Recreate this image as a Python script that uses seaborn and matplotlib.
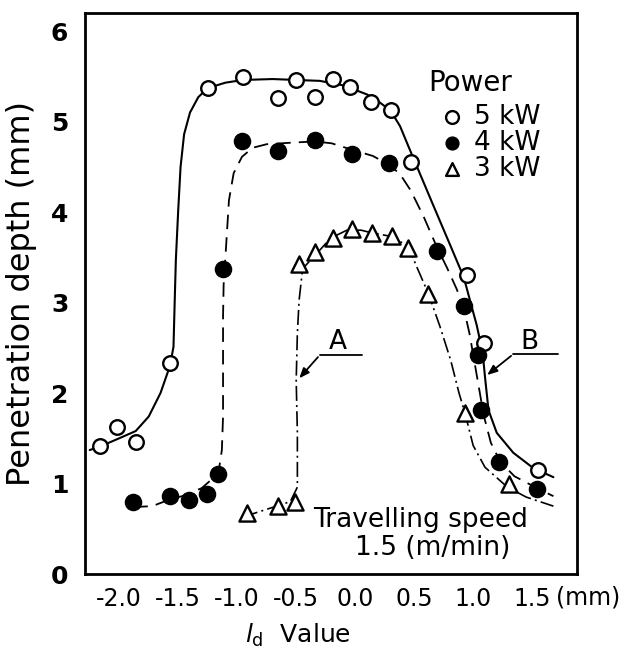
import matplotlib
matplotlib.use("Agg")
import matplotlib.pyplot as plt
import seaborn as sns

# ---------------- data ----------------
# measured points
x5 = [-2.16, -2.02, -1.86, -1.57, -1.25, -0.95, -0.65, -0.50, -0.34, -0.19, -0.04, 0.13, 0.30, 0.47, 0.95, 1.09, 1.55]
y5 = [1.41, 1.62, 1.46, 2.33, 5.37, 5.49, 5.26, 5.46, 5.27, 5.47, 5.38, 5.22, 5.13, 4.55, 3.30, 2.55, 1.15]
x4 = [-1.88, -1.57, -1.41, -1.26, -1.16, -1.12, -0.96, -0.65, -0.34, -0.03, 0.29, 0.69, 0.92, 1.04, 1.07, 1.22, 1.54]
y4 = [0.80, 0.86, 0.82, 0.88, 1.11, 3.37, 4.79, 4.68, 4.80, 4.64, 4.54, 3.57, 2.96, 2.42, 1.81, 1.24, 0.94]
x3 = [-0.92, -0.65, -0.51, -0.48, -0.34, -0.19, -0.03, 0.14, 0.31, 0.45, 0.62, 0.93, 1.30]
y3 = [0.67, 0.75, 0.80, 3.43, 3.56, 3.71, 3.81, 3.77, 3.74, 3.60, 3.10, 1.78, 1.00]

# hand-drawn fitted curves
c5x = [-2.25, -2.16, -2.00, -1.86, -1.75, -1.65, -1.57, -1.54, -1.53, -1.52, -1.50, -1.48, -1.45, -1.40, -1.33,
       -1.25, -1.10, -0.95, -0.70, -0.50, -0.30, -0.10, 0.10, 0.20, 0.30, 0.38, 0.45, 0.55, 0.66, 0.81, 0.92,
       1.03, 1.08, 1.10, 1.13, 1.20, 1.34, 1.51, 1.68]
c5y = [1.37, 1.41, 1.50, 1.58, 1.74, 2.00, 2.30, 2.51, 3.00, 3.47, 4.02, 4.50, 4.86, 5.10, 5.27,
       5.37, 5.43, 5.46, 5.47, 5.46, 5.45, 5.40, 5.30, 5.22, 5.12, 4.95, 4.73, 4.42, 4.08, 3.62, 3.28,
       2.75, 2.45, 2.18, 1.81, 1.56, 1.34, 1.17, 1.07]
c4x = [-1.88, -1.72, -1.58, -1.44, -1.30, -1.16, -1.13, -1.12, -1.12, -1.115, -1.10, -1.07, -1.03, -0.96, -0.87,
       -0.75, -0.50, -0.34, -0.20, -0.03, 0.15, 0.29, 0.38, 0.47, 0.58, 0.69, 0.78, 0.86, 0.92, 0.97, 1.01,
       1.05, 1.09, 1.15, 1.23, 1.35, 1.54, 1.68]
c4y = [0.74, 0.75, 0.82, 0.87, 0.95, 1.11, 1.37, 1.74, 2.84, 3.20, 3.50, 4.13, 4.43, 4.61, 4.71,
       4.75, 4.77, 4.78, 4.76, 4.69, 4.62, 4.52, 4.42, 4.24, 3.95, 3.62, 3.38, 3.15, 2.94, 2.65, 2.35,
       2.05, 1.75, 1.45, 1.24, 1.08, 0.95, 0.86]
c3x = [-0.95, -0.81, -0.69, -0.55, -0.49, -0.49, -0.50, -0.49, -0.475, -0.45, -0.42, -0.32, -0.21, -0.07, 0.05,
       0.14, 0.31, 0.45, 0.52, 0.62, 0.72, 0.81, 0.88, 0.93, 1.00, 1.10, 1.29, 1.45, 1.68]
c3y = [0.63, 0.69, 0.74, 0.80, 0.96, 1.56, 2.14, 2.66, 3.03, 3.32, 3.41, 3.55, 3.71, 3.80, 3.80,
       3.77, 3.73, 3.62, 3.40, 3.10, 2.73, 2.36, 2.00, 1.78, 1.42, 1.18, 0.96, 0.85, 0.75]

xticks = [-2.0, -1.5, -1.0, -0.5, 0.0, 0.5, 1.0, 1.5]
xticklabels = ["-2.0", "-1.5", "-1.0", "-0.5", "0.0", "0.5", "1.0", "1.5"]
yticks = [0, 1, 2, 3, 4, 5, 6]
series_labels = ["5 kW", "4 kW", "3 kW"]

# ---------------- figure ----------------
sns.set_theme(style="white")
plt.rcParams["font.family"] = ["DejaVu Sans"]
plt.rcParams["text.color"] = "black"
plt.rcParams["axes.labelcolor"] = "black"
fig = plt.figure(figsize=(6.26, 6.53), dpi=100)
ax = fig.add_axes([85 / 626, 1 - 574 / 653, (577 - 85) / 626, (574 - 13) / 653])

sns.lineplot(x=c5x, y=c5y, ax=ax, sort=False, estimator=None, color="black", lw=1.5, legend=False)
sns.lineplot(x=c4x, y=c4y, ax=ax, sort=False, estimator=None, color="black", lw=1.3,
             linestyle=(0, (8, 4.5)), legend=False)
sns.lineplot(x=c3x, y=c3y, ax=ax, sort=False, estimator=None, color="black", lw=1.2,
             linestyle=(0, (9, 2.5, 1.2, 2.5)), legend=False)

sns.scatterplot(x=x5, y=y5, ax=ax, marker="o", s=110, facecolor="white", edgecolor="black",
                linewidth=1.7, zorder=5, label=series_labels[0])
sns.scatterplot(x=x4, y=y4, ax=ax, marker="o", s=135, color="black", edgecolor="black",
                linewidth=1.0, zorder=5, label=series_labels[1])
sns.scatterplot(x=x3, y=y3, ax=ax, marker="^", s=135, facecolor="white", edgecolor="black",
                linewidth=1.7, zorder=5, label=series_labels[2])

ax.set_xlim(-2.29, 1.88)
ax.set_ylim(0, 6.2)
ax.set_xticks(xticks)
ax.set_xticklabels(xticklabels)
ax.set_yticks(yticks)

for sp in ax.spines.values():
    sp.set_visible(True)
    sp.set_color("black")
    sp.set_linewidth(2.0)

ax.tick_params(axis="y", direction="in", length=8, width=2, pad=12, labelsize=18, colors="black")
ax.tick_params(axis="x", direction="in", length=5.5, width=1.5, pad=9, labelsize=17, colors="black")
for t in ax.get_yticklabels():
    t.set_fontweight("bold")

ax.annotate("(mm)", xy=(1.70, 0), xycoords=("data", "axes fraction"), xytext=(0, -17),
            textcoords="offset points", ha="left", va="center", fontsize=17)

ax.set_ylabel("Penetration depth (mm)", fontsize=23, labelpad=10)
ax.set_xlabel(r"$\mathit{l}_{\mathrm{d}}$  Value", fontsize=18)
ax.xaxis.set_label_coords(0.433, -0.085)

ax.text(0.55, 0.60, "Travelling speed", ha="center", va="center", fontsize=19)
ax.text(0.66, 0.29, "1.5 (m/min)", ha="center", va="center", fontsize=19)

# annotations A and B
ax.plot([-0.30, 0.06], [2.42, 2.42], color="black", lw=1.3)
ax.annotate("", xy=(-0.49, 2.14), xytext=(-0.30, 2.42),
            arrowprops=dict(arrowstyle="-|>,head_length=0.5,head_width=0.2", color="black", lw=1.3))
ax.text(-0.15, 2.56, "A", ha="center", va="center", fontsize=19)
ax.plot([1.34, 1.72], [2.43, 2.43], color="black", lw=1.3)
ax.annotate("", xy=(1.10, 2.18), xytext=(1.34, 2.43),
            arrowprops=dict(arrowstyle="-|>,head_length=0.5,head_width=0.2", color="black", lw=1.3))
ax.text(1.48, 2.56, "B", ha="center", va="center", fontsize=19)

# legend: title as text, entries via legend
ax.text((428 - 85) / 492, (574 - 83) / 561, "Power", transform=ax.transAxes, ha="left", va="center",
        fontsize=20)
leg = ax.legend(loc="upper left", bbox_to_anchor=(0.728, 0.838), frameon=False,
                fontsize=19, borderaxespad=0, borderpad=0, handlelength=0.7,
                handletextpad=0.45, labelspacing=0.0)
for h in leg.legend_handles:
    h.set_sizes([85])

fig.savefig("out.png", dpi=100)
